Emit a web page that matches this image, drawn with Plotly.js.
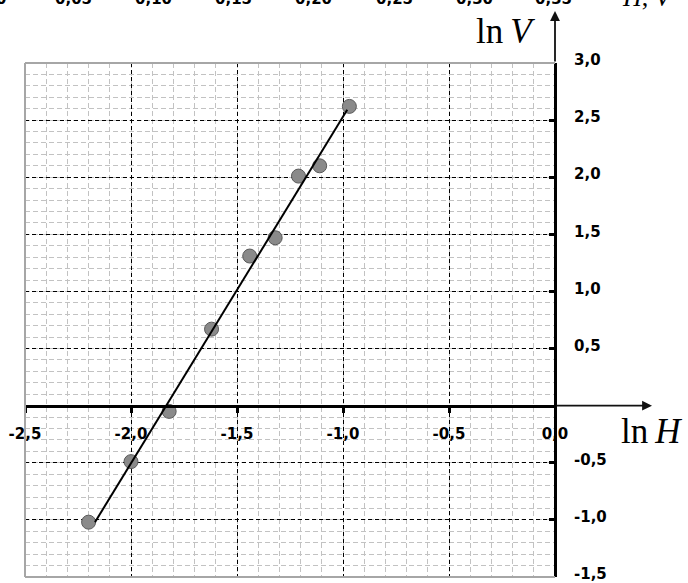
<!DOCTYPE html>
<html>
<head>
<meta charset="utf-8">
<script src="https://cdn.plot.ly/plotly-3.0.1.min.js"></script>
<style>
  html, body { margin: 0; padding: 0; background: #fff; }
  #chart { width: 688px; height: 583px; }
</style>
</head>
<body>
<div id="chart"></div>
<script>
// Measured points: ln H against ln V
const lnH = [-2.20, -2.00, -1.82, -1.62, -1.44, -1.32, -1.21, -1.11, -0.97];
const lnV = [-1.02, -0.49, -0.05, 0.67, 1.31, 1.47, 2.01, 2.10, 2.62];

// Straight-line fit through the points (end points)
const fitH = [-2.17, -0.98];
const fitV = [-1.02, 2.59];

// Axis ticks and labels (decimal comma)
const xTicks = [-2.5, -2.0, -1.5, -1.0, -0.5, 0.0];
const xTickLabels = ['-2,5', '-2,0', '-1,5', '-1,0', '-0,5', '0,0'];
const yTicks = [-1.5, -1.0, -0.5, 0.5, 1.0, 1.5, 2.0, 2.5, 3.0];
const yTickLabels = ['-1,5', '-1,0', '-0,5', '0,5', '1,0', '1,5', '2,0', '2,5', '3,0'];

// Scale strip of a neighbouring graph, cut by the top edge
const stripLabels = ['0', '0,05', '0,10', '0,15', '0,20', '0,25', '0,30', '0,35'];

const W = 688, H = 583;
const xRange = [-2.5, 0], yRange = [-1.5, 3.0];
const plotL = 25, plotR = 555, plotT = 63, plotB = 577;
const xDom = [plotL / W, plotR / W];
const yDom = [(H - plotB) / H, (H - plotT) / H];
// paper fraction where ln V = 0 (horizontal axis sits there)
const yZero = yDom[0] + (0 - yRange[0]) / (yRange[1] - yRange[0]) * (yDom[1] - yDom[0]);

const tickFont = { family: 'DejaVu Sans, Arial, sans-serif', size: 15, color: '#000', weight: 'bold' };
const gridDash = '4px,3px';
const minorGrid = { tick0: 0, dtick: 0.1, showgrid: true, gridcolor: '#c2c2c2', griddash: '5px,3px', gridwidth: 1, ticks: '' };

const traces = [
  {
    x: lnH, y: lnV, type: 'scatter', mode: 'markers',
    marker: { size: 14, color: '#8a8a8a', line: { color: '#5a5a5a', width: 1 } },
    hoverinfo: 'x+y'
  },
  {
    x: fitH, y: fitV, type: 'scatter', mode: 'lines',
    line: { color: '#000', width: 2 }, hoverinfo: 'skip'
  }
];

const px = v => v / W;
const py = v => (H - v) / H;

const annotations = [
  // arrow continuing the horizontal axis
  { xref: 'paper', yref: 'paper', x: px(652), y: yZero, ax: -97, ay: 0,
    text: '', showarrow: true, arrowhead: 2, arrowsize: 1.1, arrowwidth: 1.8, arrowcolor: '#111' },
  // arrow continuing the vertical axis
  { xref: 'paper', yref: 'paper', x: xDom[1], y: py(11), ax: 0, ay: 52,
    text: '', showarrow: true, arrowhead: 2, arrowsize: 1.1, arrowwidth: 1.8, arrowcolor: '#111' },
  // axis names
  { xref: 'paper', yref: 'paper', x: px(537), y: py(31), xanchor: 'right', yanchor: 'middle',
    text: 'ln\u2009<i>V</i>', showarrow: false,
    font: { family: 'Liberation Serif, Times New Roman, serif', size: 35, color: '#000' } },
  { xref: 'paper', yref: 'paper', x: px(684), y: py(431), xanchor: 'right', yanchor: 'middle',
    text: 'ln\u2009<i>H</i>', showarrow: false,
    font: { family: 'Liberation Serif, Times New Roman, serif', size: 35, color: '#000' } }
];

// cut-off scale labels along the very top
const stripX = [1, 73, 153, 233, 313, 394, 474, 553];
stripLabels.forEach((t, i) => {
  annotations.push({
    xref: 'paper', yref: 'paper', x: px(stripX[i]), y: py(-1), xanchor: 'center', yanchor: 'middle',
    text: t, showarrow: false, font: tickFont
  });
});
annotations.push({
  xref: 'paper', yref: 'paper', x: px(648), y: py(-2), xanchor: 'center', yanchor: 'middle',
  text: '<i>H</i>, <i>V</i>', showarrow: false,
  font: { family: 'Liberation Serif, Times New Roman, serif', size: 26, color: '#000' }
});

const borderColor = '#a6a6a6';
const shapes = [
  { type: 'line', xref: 'paper', yref: 'paper', x0: xDom[0], x1: xDom[0], y0: yDom[0], y1: yDom[1], line: { color: borderColor, width: 2 } },
  { type: 'line', xref: 'paper', yref: 'paper', x0: xDom[0], x1: xDom[1], y0: yDom[1], y1: yDom[1], line: { color: borderColor, width: 2 } },
  { type: 'line', xref: 'paper', yref: 'paper', x0: xDom[0], x1: xDom[1], y0: yDom[0], y1: yDom[0], line: { color: borderColor, width: 2 } }
];

const layout = {
  width: W, height: H,
  margin: { l: 0, r: 0, t: 0, b: 0, pad: 0 },
  paper_bgcolor: '#fff', plot_bgcolor: '#fff',
  showlegend: false,
  separators: ', ',
  xaxis: {
    range: xRange, domain: xDom, anchor: 'free', position: yZero,
    tickmode: 'array', tickvals: xTicks, ticktext: xTickLabels,
    showline: true, linecolor: '#000', linewidth: 3,
    ticks: 'outside', ticklen: 5, tickwidth: 3, tickcolor: '#000',
    ticklabelstandoff: 8, tickfont: tickFont, ticklabeloverflow: 'allow',
    showgrid: true, gridcolor: '#000', griddash: gridDash, gridwidth: 1,
    minor: minorGrid,
    zeroline: false, fixedrange: true
  },
  yaxis: {
    range: yRange, domain: yDom, anchor: 'free', position: xDom[1], side: 'right',
    tickmode: 'array', tickvals: yTicks, ticktext: yTickLabels,
    showline: true, linecolor: '#000', linewidth: 3,
    ticks: 'inside', ticklen: 5, tickwidth: 3, tickcolor: '#000',
    ticklabelstandoff: 14, ticklabelshift: -3, tickfont: tickFont, ticklabeloverflow: 'allow',
    showgrid: true, gridcolor: '#000', griddash: gridDash, gridwidth: 1,
    minor: minorGrid,
    zeroline: false, fixedrange: true
  },
  shapes: shapes,
  annotations: annotations
};

Plotly.newPlot('chart', traces, layout, { displayModeBar: false, staticPlot: true });
</script>
</body>
</html>
